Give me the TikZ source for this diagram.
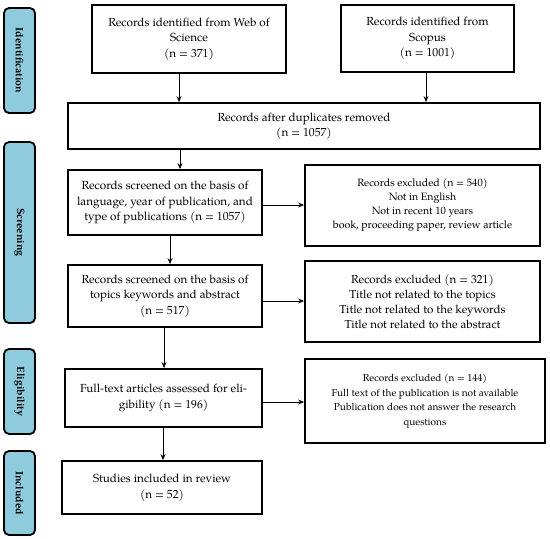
\documentclass[tikz,border=0pt]{standalone}
\usepackage{fontspec}
\setmainfont{TeX Gyre Pagella}
\usetikzlibrary{arrows.meta}
\definecolor{lab}{RGB}{142,204,221}
\tikzset{
  box/.style={draw=black, line width=1.8pt, align=center, inner sep=0pt, font=\fontsize{11.7}{15.5}\selectfont},
  lbl/.style={draw=black, line width=1.8pt, fill=lab, rounded corners=5pt, inner sep=0pt, minimum width=31pt},
  lbt/.style={rotate=-90, font=\fontsize{10.6}{12}\selectfont\bfseries},
  arr/.style={line width=0.9pt, -{Stealth[length=6pt,width=5pt]}},
  x=1pt, y=-1pt
}
\begin{document}
\begin{tikzpicture}
\useasboundingbox (0,0) rectangle (550,539);
% side labels
\node[lbl, minimum height=105pt] (idl) at (19.5,60.5) {};
\node[lbt] (idt) at (idl.center) {Identification};
\node[lbl, minimum height=181pt] (scl) at (19.5,232.5) {};
\node[lbt] (sct) at (scl.center) {Screening};
\node[lbl, minimum height=85pt] (ell) at (19.5,391.5) {};
\node[lbt] (elt) at (ell.center) {Eligibility};
\node[lbl, minimum height=84pt] (inl) at (19.5,493) {};
\node[lbt] (intx) at (inl.center) {Included};
% boxes
\node[box, minimum width=194pt, minimum height=68pt] (wos) at (189,39) {Records identified from Web of\\Science\\(n = 371)};
\node[box, minimum width=173pt, minimum height=67pt] (sco) at (427.5,38.5) {Records identified from\\Scopus\\(n = 1001)};
\node[box, minimum width=472pt, minimum height=46pt] (dup) at (304,126) {Records after duplicates removed\\(n = 1057)};
\node[box, minimum width=194pt, minimum height=65pt] (s1) at (165,202.5) {Records screened on the basis of\\language, year of publication, and\\type of publications (n = 1057)};
\node[box, minimum width=235pt, minimum height=81pt, font=\fontsize{10.6}{14}\selectfont] (ex1) at (422.5,205.5) {Records excluded (n = 540)\\Not in English\\Not in recent 10 years\\book, proceeding paper, review article};
\node[box, minimum width=194pt, minimum height=62pt] (s2) at (165,296) {Records screened on the basis of\\topics keywords and abstract\\(n = 517)};
\node[box, minimum width=235pt, minimum height=81pt, font=\fontsize{11.6}{15}\selectfont] (ex2) at (422.5,301.5) {Records excluded (n = 321)\\Title not related to the topics\\Title not related to the keywords\\Title not related to the abstract};
\node[box, minimum width=197pt, minimum height=58pt] (ft) at (163.5,398) {Full-text articles assessed for eli-\\gibility (n = 196)};
\node[box, minimum width=240pt, minimum height=84pt, font=\fontsize{10.1}{14.5}\selectfont] (ex3) at (425,401) {Records excluded (n = 144)\\Full text of the publication is not available\\Publication does not answer the research\\questions};
\node[box, minimum width=200pt, minimum height=53pt] (st) at (162,487.5) {Studies included in review\\(n = 52)};
% arrows
\draw[arr] (wos.south -| 179,0) -- (dup.north -| 179,0);
\draw[arr] (sco.south -| 426,0) -- (dup.north -| 426,0);
\draw[arr] (dup.south -| 180,0) -- (s1.north -| 180,0);
\draw[arr] (s1.south -| 170,0) -- (s2.north -| 170,0);
\draw[arr] (s2.south -| 164,0) -- (ft.north -| 164,0);
\draw[arr] (ft.south -| 163,0) -- (st.north -| 163,0);
\draw[arr] (s1.east |- 0,205) -- (ex1.west |- 0,205);
\draw[arr] (s2.east |- 0,301) -- (ex2.west |- 0,301);
\draw[arr] (ft.east |- 0,402) -- (ex3.west |- 0,402);
\end{tikzpicture}
\end{document}
